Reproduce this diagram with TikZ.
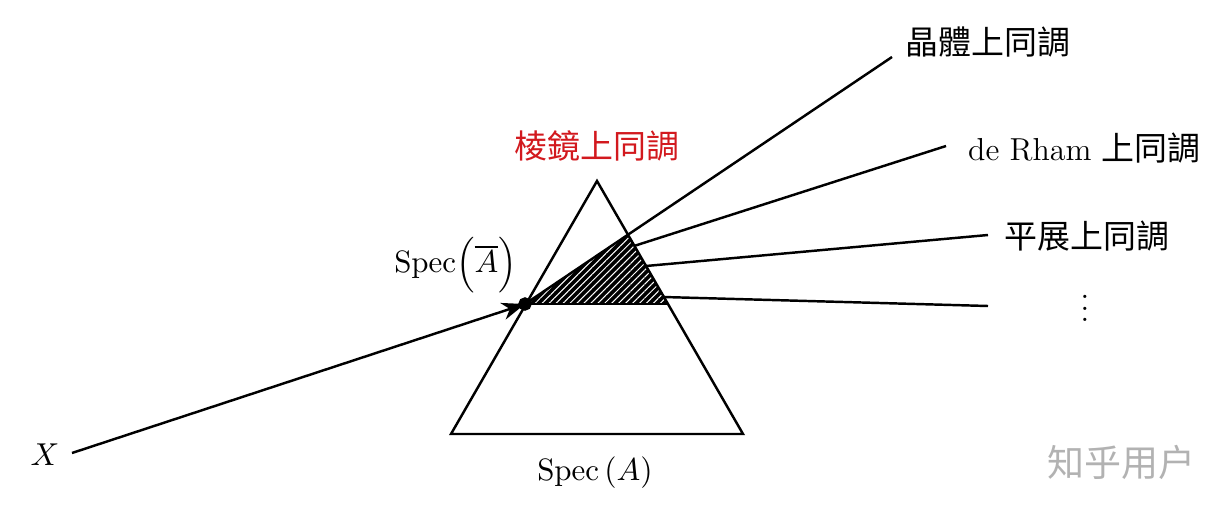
\documentclass[tikz,border=0pt]{standalone}
\usepackage{amsmath}
\usepackage{amssymb}
\usepackage{fontspec}
\usepackage{pgf, tikz}
\usetikzlibrary{patterns.meta,arrows.meta}
\newfontfamily\cjk{Noto Sans CJK TC}
\definecolor{prismred}{RGB}{210,25,30}

\begin{document}
\begin{tikzpicture}[x=0.01216cm,y=-0.01216cm,line width=0.85pt,
	lbl/.style={font=\fontsize{10.7}{12.5}\selectfont,inner sep=0pt},
	cjklbl/.style={font=\cjk\fontsize{11.4}{13.5}\selectfont,inner sep=0pt}]
	\useasboundingbox (0,0) rectangle (1230,505);
	\coordinate (top) at (597,181);
	\coordinate (bl) at (451,434);
	\coordinate (br) at (743,434);
	\coordinate (in) at (525,304);
	\coordinate (out1) at (628,235);
	\coordinate (out2) at (634,246);
	\coordinate (out3) at (646,266);
	\coordinate (out4) at (663,297);
	\coordinate (low) at (667,304);
	\coordinate (end1) at (892,57);
	\coordinate (end2) at (946,146);
	\coordinate (end3) at (988,235);
	\coordinate (end4) at (988,306);
	% hatched part
	\fill[black] (in) -- (out1) -- (low) -- cycle;
	\fill[pattern={Lines[angle=45,distance=1.7pt,line width=0.35pt]},pattern color=white] (in) -- (out1) -- (low) -- cycle;
	\draw (top) -- (bl) -- (br) -- cycle;
	\draw (in) -- (low);
	% rays
	\node[lbl] (x) at (45,455) {$X$};
	\coordinate (start) at (72,453);
	\draw[-{Stealth[length=8pt,width=6pt,inset=2.5pt]}] (start) -- (in);
	\filldraw[fill=black] (in) circle (5.5);
	\draw (in) -- (end1);
	\draw (out2) -- (end2);
	\draw (out3) -- (end3);
	\draw (out4) -- (end4);
	% labels
	\node[cjklbl] (crys) at (988,42) {晶體上同調};
	\node[lbl,anchor=west] (drham) at (967,148) {\fontsize{11}{13}\selectfont de Rham {\cjk\fontsize{11.4}{13.5}\selectfont 上同調}};
	\node[cjklbl,anchor=west] (etale) at (1003,236) {平展上同調};
	\node[lbl] (dots) at (1085,300) {$\vdots$};
	\node[cjklbl,text=prismred] (prism) at (597,146) {棱鏡上同調};
	\node[lbl,anchor=east] (specbar) at (518,265) {$\operatorname{Spec}\Bigl(\overline{A}\Bigr)$};
	\node[lbl] (spec) at (595,473) {$\operatorname{Spec}\left(A\right)$};
	\node[font=\cjk\fontsize{12.8}{15}\selectfont,text=black!30] (mark) at (1121,462) {知乎用户};
\end{tikzpicture}
\end{document}
